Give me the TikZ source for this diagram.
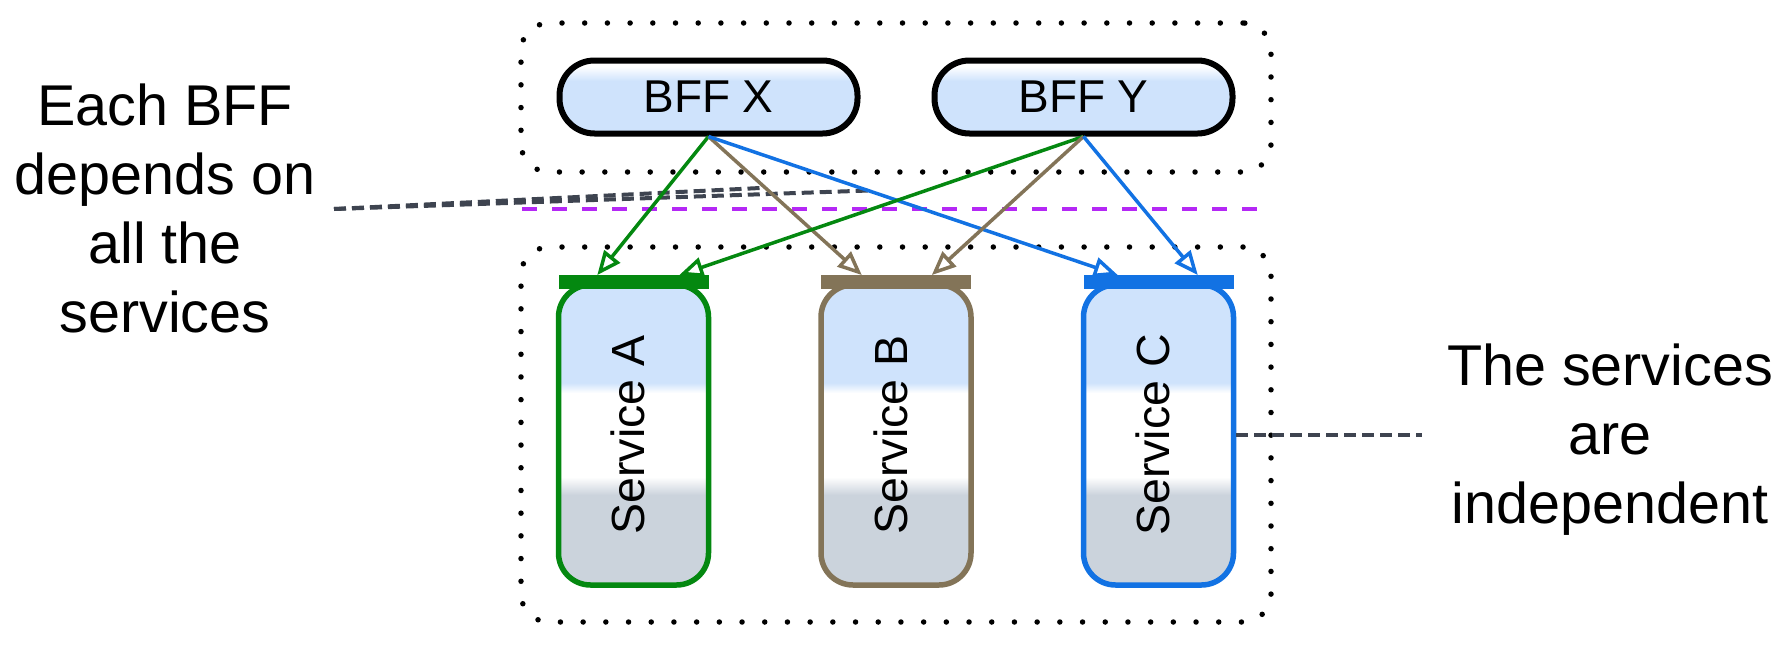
\documentclass[tikz,border=0pt]{standalone}
\usepackage{fontspec}
\setmainfont{Liberation Sans}
\usetikzlibrary{arrows.meta,calc}
\definecolor{lbluefill}{RGB}{207,227,252}
\definecolor{svcgrayfill}{RGB}{203,211,220}
\definecolor{greenS}{RGB}{4,136,16}
\definecolor{brownS}{RGB}{131,116,88}
\definecolor{blueS}{RGB}{18,114,227}
\definecolor{purpleL}{RGB}{180,40,245}
\definecolor{slateL}{RGB}{62,68,80}
\pgfdeclareverticalshading{svcshade}{100bp}{color(0bp)=(svcgrayfill); color(40bp)=(svcgrayfill); color(43bp)=(white); color(57bp)=(white); color(58.7bp)=(lbluefill); color(100bp)=(lbluefill)}
\pgfdeclareverticalshading{bffshade}{100bp}{color(0bp)=(lbluefill); color(61bp)=(lbluefill); color(71bp)=(white); color(100bp)=(white)}
\begin{document}
\begin{tikzpicture}[x=1pt,y=-1pt,
 container/.style={draw=black, line width=5.5pt, dash pattern=on 0pt off 22.7pt, line cap=round, rounded corners=28pt, inner sep=0pt, minimum width=750pt},
 bff/.style={draw=black, line width=6pt, rounded corners=35pt, shading=bffshade, minimum width=298pt, minimum height=73pt, inner sep=0pt, font=\fontsize{46pt}{55pt}\selectfont},
 svc/.style={draw=#1, line width=5.5pt, rounded corners=32pt, shading=svcshade, minimum width=150pt, minimum height=300pt, inner sep=0pt, font=\fontsize{46.5pt}{55pt}\selectfont},
 svcbar/.style={fill=#1, minimum width=150pt, minimum height=14pt, inner sep=0pt},
 dep/.style={draw=#1, line width=3.5pt, -{Triangle[open, length=24pt, width=20pt]}},
 note/.style={draw=slateL, line width=4pt, dash pattern=on 12pt off 6pt},
 lbl/.style={align=center, inner sep=0pt, anchor=north, font=\fontsize{57.5pt}{69pt}\selectfont}
]
\useasboundingbox (0,0) rectangle (1789,651);
% containers
\node[container, minimum height=149pt] (topbox) at (896,97.5) {};
\node[container, minimum height=375pt] (botbox) at (896,434.5) {};
% separator
\coordinate (sepL) at (522,209);
\coordinate (sepR) at (1270,209);
\draw[purpleL, line width=4pt, dash pattern=on 15pt off 15pt] (sepL) -- (sepR);
% BFFs
\node[bff] (X) at (708.5,97) {BFF X};
\node[bff] (Y) at (1083.5,97) {BFF Y};
% services
\node[svc=greenS] (A) at (633.5,435) {\rotatebox{90}{\strut Service A}};
\node[svc=brownS] (B) at (896,435) {\rotatebox{90}{\strut Service B}};
\node[svc=blueS] (C) at (1158.5,435) {\rotatebox{90}{\strut Service C}};
\node[svcbar=greenS] (Abar) at (A.north) {};
\node[svcbar=brownS] (Bbar) at (B.north) {};
\node[svcbar=blueS] (Cbar) at (C.north) {};
% helper points on edges
\path (X.south) -- coordinate[pos=0.37] (nXB) ([xshift=41pt]Bbar.north west);
\path (X.south) -- coordinate[pos=0.39] (nXC) ([xshift=34.5pt]Cbar.north west);
% notes
\node[lbl] (lnote) at (165,84) {Each BFF\\depends on\\all the\\services};
\node[lbl] (rnote) at (1610,344) {The services\\are\\independent};
\coordinate (lStart) at (334,209);
\coordinate (rEnd) at (1422,435);
\draw[note] (lStart) -- (nXB);
\draw[note] (lStart) -- (nXC);
\draw[note] (C.east) -- (rEnd);
% dependencies
\draw[dep=greenS] (X.south) -- ([xshift=39pt]Abar.north west);
\draw[dep=brownS] (X.south) -- ([xshift=41pt]Bbar.north west);
\draw[dep=blueS] (X.south) -- ([xshift=34.5pt]Cbar.north west);
\draw[dep=greenS] (Y.south) -- ([xshift=121pt]Abar.north west);
\draw[dep=brownS] (Y.south) -- ([xshift=111pt]Bbar.north west);
\draw[dep=blueS] (Y.south) -- ([xshift=114.5pt]Cbar.north west);
\end{tikzpicture}
\end{document}
